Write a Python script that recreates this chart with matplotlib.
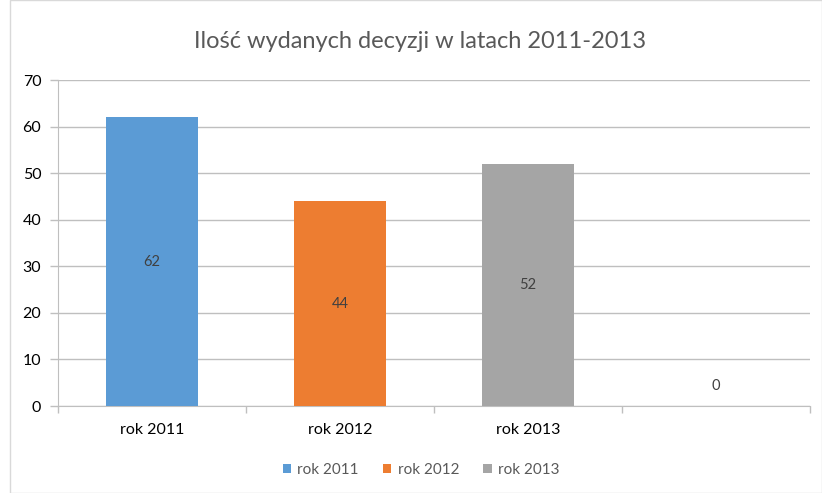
import matplotlib
matplotlib.use("Agg")
import matplotlib.pyplot as plt
from matplotlib.patches import Rectangle, Patch
import numpy as np

categories = ["rok 2011", "rok 2012", "rok 2013", ""]
values = [62, 44, 52, 0]
series_names = ["rok 2011", "rok 2012", "rok 2013"]
colors = ["#5B9BD5", "#ED7D31", "#A5A5A5", "#FFC000"]
yticks = [0, 10, 20, 30, 40, 50, 60, 70]
title = "Ilość wydanych decyzji w latach 2011-2013"

plt.rcParams['font.family'] = ['Lato', 'DejaVu Sans']

fig = plt.figure(figsize=(8.22, 4.93), dpi=100)
fig.patches.append(Rectangle((10/822, 0), 1 - 10/822 - 0.0005, 0.999, transform=fig.transFigure,
                             fill=False, edgecolor="#D9D9D9", linewidth=1.0))
ax = fig.add_axes([58/822, 1 - 406/493, (810 - 58)/822, (406 - 80)/493])

x = np.arange(len(categories))
bars = ax.bar(x, values, width=0.49, color=colors, zorder=3)

for xi, v in zip(x, values):
    if v > 0:
        ax.text(xi, v / 2, str(v), ha="center", va="center", fontsize=10.5, color="#404040", zorder=4)
    else:
        ax.annotate(str(v), (xi, 0), xytext=(0, 14.5), textcoords="offset points",
                    ha="center", va="center", fontsize=10.5, color="#404040")

ax.set_xlim(-0.5, len(categories) - 0.5)
ax.set_ylim(0, 70)
ax.set_yticks(yticks)
ax.set_yticklabels([str(t) for t in yticks], fontsize=11.5, color="#000000")
ax.yaxis.grid(True, color="#BFBFBF", linewidth=1.0, zorder=0)
ax.set_axisbelow(True)

ax.set_xticks(x)
ax.set_xticklabels(categories, fontsize=11.5, color="#000000")
ax.set_xticks(np.arange(-0.5, len(categories)), minor=True)
ax.tick_params(axis="x", which="major", length=0, pad=12)
ax.tick_params(axis="x", which="minor", length=5, color="#BFBFBF", width=1.0)
ax.tick_params(axis="y", length=6, color="#BFBFBF", width=1.0, pad=6)

for s in ["top", "right"]:
    ax.spines[s].set_visible(False)
ax.spines["left"].set_color("#BFBFBF")
ax.spines["bottom"].set_color("#BFBFBF")

fig.text(420/822, 1 - 42/493, title, ha="center", va="center", fontsize=17, color="#595959")

handles = [Patch(facecolor=colors[i], edgecolor="none") for i in range(3)]
leg = fig.legend(handles, series_names, loc="center", bbox_to_anchor=(421/822, 1 - 470/493),
                 ncol=3, frameon=False, fontsize=11, handlelength=0.55, handleheight=0.55,
                 handletextpad=0.4, columnspacing=1.6)
for t in leg.get_texts():
    t.set_color("#595959")

fig.savefig("out.png", dpi=100)
